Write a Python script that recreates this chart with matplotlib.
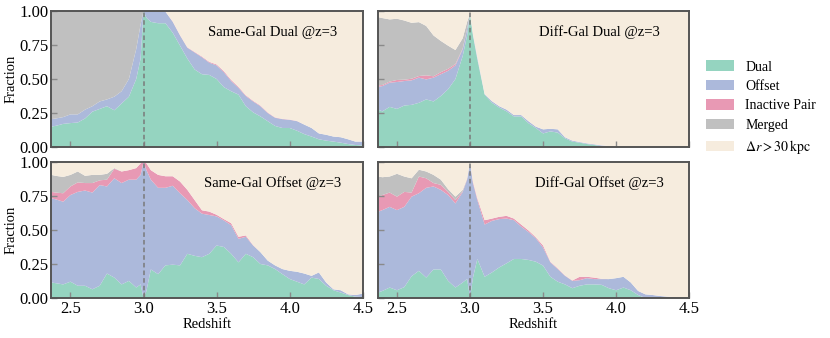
import matplotlib
matplotlib.use("Agg")
import matplotlib.pyplot as plt
from matplotlib.patches import Patch
import numpy as np

plt.rcParams['font.family'] = ['Liberation Serif', 'DejaVu Serif']
plt.rcParams['mathtext.fontset'] = 'stix'

redshift = [2.37, 2.40, 2.45, 2.50, 2.55, 2.60, 2.65, 2.70, 2.75, 2.80, 2.85, 2.90, 2.95, 2.98,
            3.00, 3.02, 3.05, 3.10, 3.15, 3.20, 3.25, 3.30, 3.35, 3.40, 3.45, 3.50, 3.55, 3.60,
            3.65, 3.70, 3.75, 3.80, 3.85, 3.90, 3.95, 4.00, 4.05, 4.10, 4.15, 4.20, 4.25, 4.30,
            4.35, 4.40, 4.45, 4.50]

categories = ["Dual", "Offset", "Inactive Pair", "Merged", r"$\Delta r > 30\,\mathrm{kpc}$"]
panel_titles = ["Same-Gal Dual @z=3", "Diff-Gal Dual @z=3",
                "Same-Gal Offset @z=3", "Diff-Gal Offset @z=3"]

# ---- Same-Gal Dual ----
sgd_dual = [.15, .156, .17, .176, .18, .21, .26, .28, .30, .27, .32, .37, .50, .65,
            1.0, .95, .92, .91, .91, .84, .745, .65, .57, .535, .53, .50, .44, .41,
            .385, .30, .255, .225, .19, .155, .14, .14, .12, .095, .077, .057, .047, .04,
            .032, .022, .015, .012]
sgd_offset = [.055, .054, .05, .064, .06, .065, .04, .055, .05, .10, .09, .13, .22, .25,
              0, .05, .08, .09, .085, .08, .075, .08, .125, .125, .09, .10, .11, .075,
              .05, .075, .08, .075, .06, .06, .065, .06, .07, .07, .063, .043, .043, .037,
              .04, .035, .025, .028]
sgd_inactive = [0, 0, 0, 0, 0, 0, 0, 0, 0, 0, 0, 0, 0, 0,
                0, 0, 0, 0, 0, .003, .003, .003, .004, .005, .006, .007, .008, .008,
                .007, .006, .005, .005, .004, .003, .002, .002, .002, 0, 0, 0, 0, 0,
                0, 0, 0, 0]
sgd_merged = [.795, .79, .78, .76, .76, .725, .70, .665, .65, .63, .59, .50, .28, .10,
              0, 0, 0, 0, 0, 0, 0, 0, 0, 0, 0, 0, 0, 0,
              0, 0, 0, 0, 0, 0, 0, 0, 0, 0, 0, 0, 0, 0,
              0, 0, 0, 0]

# ---- Diff-Gal Dual ----
dgd_dual = [.275, .262, .295, .28, .305, .31, .325, .35, .335, .375, .425, .50, .67, .82,
            .98, .82, .645, .385, .325, .29, .262, .225, .225, .175, .14, .10, .115, .106,
            .064, .04, .032, .022, .015, .007, .003, .002, .001, 0, 0, 0, 0, 0,
            0, 0, 0, 0]
dgd_offset = [.168, .186, .178, .198, .18, .18, .185, .147, .175, .16, .135, .10, .05, .05,
              0, .01, .015, .005, .012, .01, .013, .01, .01, .015, .01, .03, .019, .024,
              .008, .007, .005, .005, .005, .005, .004, .002, .002, .002, .002, .001, .001, .001,
              .001, 0, 0, 0]
dgd_inactive = [.01, .008, .008, .015, .01, .012, .012, .03, .01, .015, .015, .01, .005, 0,
                0, 0, 0, 0, 0, 0, 0, 0, 0, 0, 0, 0, 0, 0,
                0, 0, 0, 0, 0, 0, 0, 0, 0, 0, 0, 0, 0, 0,
                0, 0, 0, 0]
dgd_merged = [.502, .492, .457, .45, .435, .411, .396, .363, .30, .23, .17, .103, .075, .05,
              0, 0, 0, 0, 0, 0, 0, 0, 0, 0, 0, 0, 0, 0,
              0, 0, 0, 0, 0, 0, 0, 0, 0, 0, 0, 0, 0, 0,
              0, 0, 0, 0]

# ---- Same-Gal Offset ----
sgo_dual = [.114, .109, .10, .12, .09, .09, .064, .09, .18, .15, .10, .126, .077, .10,
            0, .052, .21, .175, .24, .245, .24, .325, .31, .30, .325, .386, .375, .325,
            .262, .325, .30, .25, .24, .213, .176, .14, .12, .10, .15, .14, .09, .057,
            .04, .022, .01, .007]
sgo_offset = [.619, .616, .608, .637, .69, .70, .711, .74, .64, .73, .745, .744, .793, .805,
              1.0, .888, .66, .635, .57, .58, .53, .395, .35, .32, .285, .214, .195, .21,
              .173, .125, .086, .087, .035, .027, .037, .06, .073, .08, .013, .048, .024, .007,
              .017, .005, .012, .025]
sgo_inactive = [.047, .05, .062, .063, .07, .055, .07, .035, .05, .07, .085, .07, .085, .085,
                0, .05, .07, .095, .085, .07, .086, .075, .06, .025, .025, .012, .01, .015,
                .015, .01, .003, 0, 0, 0, 0, 0, 0, 0, 0, 0, 0, 0,
                0, 0, 0, 0]
sgo_merged = [.125, .123, .12, .085, .08, .053, .06, .04, .043, .005, 0, 0, 0, 0,
              0, 0, 0, 0, 0, 0, 0, 0, 0, 0, 0, 0, 0, 0,
              0, 0, 0, 0, 0, 0, 0, 0, 0, 0, 0, 0, 0, 0,
              0, 0, 0, 0]

# ---- Diff-Gal Offset ----
dgo_dual = [.04, .052, .077, .057, .08, .16, .20, .15, .21, .21, .126, .077, .114, .14,
            0, .15, .287, .156, .188, .225, .255, .287, .287, .28, .267, .238, .156, .12,
            .10, .072, .09, .10, .10, .097, .072, .057, .077, .057, .022, 0, 0, 0,
            0, 0, 0, 0]
dgo_offset = [.594, .594, .593, .589, .59, .585, .57, .66, .61, .585, .631, .618, .666, .73,
              1.0, .695, .433, .384, .379, .355, .329, .285, .238, .205, .173, .132, .106, .093,
              .063, .054, .041, .046, .039, .042, .067, .089, .079, .057, .03, .027, .022, .015,
              .01, .007, .003, 0]
dgo_inactive = [.111, .111, .105, .099, .11, .03, .123, .07, .025, .037, .023, .025, .005, .005,
                0, .011, .013, .032, .017, .017, .02, .012, .015, .012, .007, .016, .005, .005,
                .003, .003, .025, .01, .011, .002, 0, 0, 0, 0, 0, 0, 0, 0,
                0, 0, 0, 0]
dgo_merged = [.148, .131, .118, .168, .113, .105, .05, .05, .06, .038, .02, .025, .01, .005,
              0, 0, 0, 0, 0, 0, 0, 0, 0, 0, 0, 0, 0, 0,
              0, 0, 0, 0, 0, 0, 0, 0, 0, 0, 0, 0, 0, 0,
              0, 0, 0, 0]

panels = [
    (sgd_dual, sgd_offset, sgd_inactive, sgd_merged),
    (dgd_dual, dgd_offset, dgd_inactive, dgd_merged),
    (sgo_dual, sgo_offset, sgo_inactive, sgo_merged),
    (dgo_dual, dgo_offset, dgo_inactive, dgo_merged),
]

colors = ["#95d4c0", "#acb9db", "#e899b4", "#c0c0c0", "#f6ecde"]
x_ticks = [2.5, 3.0, 3.5, 4.0, 4.5]
y_ticks = [0.0, 0.25, 0.5, 0.75, 1.0]

fig = plt.figure(figsize=(8.3, 3.38), dpi=100)
W = 0.3750
H = 0.4025
positions = [(0.0620, 0.5650), (0.4554, 0.5650), (0.0620, 0.1183), (0.4554, 0.1183)]

z = np.array(redshift)
for i, (series, (x0, y0)) in enumerate(zip(panels, positions)):
    ax = fig.add_axes([x0, y0, W, H])
    arr = np.array(series, dtype=float)
    rest = np.clip(1.0 - arr.sum(axis=0), 0, None)
    ax.stackplot(z, *arr, rest, colors=colors, linewidth=0)
    ax.axvline(3.0, color="#7a7a7a", ls=(0, (3, 2)), lw=1.1)
    ax.set_xlim(2.37, 4.5)
    ax.set_ylim(0, 1.0)
    ax.set_xticks(x_ticks)
    ax.set_yticks(y_ticks)
    ax.tick_params(direction="in", length=4, width=1.0, color="#8a8a8a",
                   labelsize=12, pad=2)
    for sp in ax.spines.values():
        sp.set_color("#555555")
        sp.set_linewidth(1.4)
    if i < 2:
        ax.tick_params(labelbottom=False)
    else:
        ax.set_xticklabels(["2.5", "3.0", "3.5", "4.0", "4.5"])
        ax.set_xlabel("Redshift", fontsize=10.5, labelpad=1)
    if i % 2 == 1:
        ax.tick_params(labelleft=False)
    else:
        ax.set_yticklabels(["0.00", "0.25", "0.50", "0.75", "1.00"])
        ax.set_ylabel("Fraction", fontsize=10.5, labelpad=1)
    ax.text(0.71, 0.845, panel_titles[i], transform=ax.transAxes,
            ha="center", va="center", fontsize=10.5)

handles = [Patch(facecolor=c, edgecolor="none") for c in colors]
fig.legend(handles, categories, loc="center left", bbox_to_anchor=(0.836, 0.68),
           frameon=False, fontsize=10, handlelength=2.0, handleheight=0.8,
           labelspacing=0.45, handletextpad=0.8)

fig.savefig("out.png", dpi=100)
